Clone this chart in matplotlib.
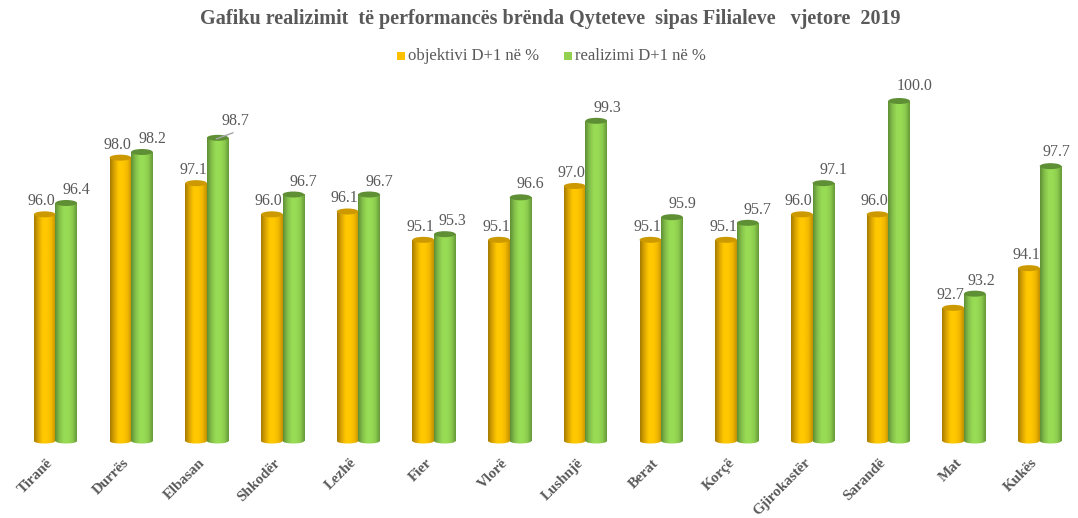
import numpy as np
import matplotlib
matplotlib.use('Agg')
import matplotlib.pyplot as plt
from matplotlib.colors import LinearSegmentedColormap
from matplotlib.patches import Ellipse
from matplotlib.transforms import ScaledTranslation

qytetet = ['Tiranë', 'Durrës', 'Elbasan', 'Shkodër', 'Lezhë', 'Fier', 'Vlorë', 'Lushnjë',
           'Berat', 'Korçë', 'Gjirokastër', 'Sarandë', 'Mat', 'Kukës']
objektivi = [96.0, 98.0, 97.1, 96.0, 96.1, 95.1, 95.1, 97.0, 95.1, 95.1, 96.0, 96.0, 92.7, 94.1]
realizimi = [96.4, 98.2, 98.7, 96.7, 96.7, 95.3, 96.6, 99.3, 95.9, 95.7, 97.1, 100.0, 93.2, 97.7]

W, H = 1078, 518
plt.rcParams['font.family'] = ['Liberation Serif', 'DejaVu Serif']
GRI = '#595959'

fig = plt.figure(figsize=(W / 100, H / 100), dpi=100)
# zona e grafikut ne piksela
left, right, top, bottom = 17.6, 1077.6, 101, 441
ax = fig.add_axes([left / W, 1 - bottom / H, (right - left) / W, (bottom - top) / H])
ax.patch.set_alpha(0)
ymin, ymax = 88, 100
px_x = 1 / 75.7
px_y = (ymax - ymin) / (bottom - top)
bw = 0.285

kat_o = LinearSegmentedColormap.from_list('o', ['#a67c00', '#dca600', '#ffc800', '#ffc800', '#f2b900', '#c29000'])
kat_g = LinearSegmentedColormap.from_list('g', ['#5f8f35', '#84bf4b', '#98dc55', '#98dc55', '#8ccb4e', '#659a38'])
grad = np.linspace(0, 1, 64).reshape(1, -1)


def cilinder(x, v, cmap, lart):
    bar = ax.bar(x, v - ymin, bw, bottom=ymin, color='none', zorder=2)[0]
    im = ax.imshow(grad, extent=[x - bw / 2, x + bw / 2, ymin, v], aspect='auto', cmap=cmap, zorder=2)
    im.set_clip_path(bar)
    # fundi i rrumbullaket me te njejtin gradient
    e = Ellipse((x, ymin), bw, 5 * px_y, facecolor='none', edgecolor='none', zorder=2, clip_on=False)
    ax.add_patch(e)
    im2 = ax.imshow(grad, extent=[x - bw / 2, x + bw / 2, ymin - 3 * px_y, ymin + 3 * px_y], aspect='auto',
                    cmap=cmap, zorder=2)
    im2.set_clip_box(fig.bbox)
    im2.set_clip_path(e)
    ax.add_patch(Ellipse((x, v), bw, 6 * px_y, color=lart, zorder=3, clip_on=False, lw=0))


x = np.arange(len(qytetet))
for i in x:
    cilinder(i - bw / 2, objektivi[i], kat_o, '#cc9a00')
    cilinder(i + bw / 2, realizimi[i], kat_g, '#5f8f35')

# zhvendosjet e etiketave ne piksela
zhv_o = {}
zhv_g = {5: (8, 13), 2: (18, 17), 11: (15, 15), 12: (7, 13), 13: (6, 14), 7: (11, 13), 6: (10, 13)}
for i in x:
    dx, dy = zhv_o.get(i, (-3, 13))
    ax.annotate(f'{objektivi[i]:.1f}', (i - bw / 2, objektivi[i]), xytext=(dx * 0.72, dy * 0.72),
                textcoords='offset points', ha='center', va='center', fontsize=11.5, color=GRI, zorder=5,
                annotation_clip=False)
    dx, dy = zhv_g.get(i, (10, 13))
    ax.annotate(f'{realizimi[i]:.1f}', (i + bw / 2, realizimi[i]), xytext=(dx * 0.72, dy * 0.72),
                textcoords='offset points', ha='center', va='center', fontsize=11.5, color=GRI, zorder=5,
                annotation_clip=False)

# vija e Elbasanit
ax.annotate('', (2 + bw / 2 - 4 * px_x, realizimi[2] - 2 * px_y), xytext=(2 + bw / 2 + 18 * px_x, realizimi[2] + 6 * px_y),
            arrowprops=dict(arrowstyle='-', color='#a6a6a6', lw=1), zorder=5, annotation_clip=False)

ax.set_xlim(-0.5, len(qytetet) - 0.5)
ax.set_ylim(ymin, ymax)
ax.set_yticks([])
ax.set_xticks(x)
ax.set_xticklabels(qytetet, rotation=45, ha='right', rotation_mode='anchor', fontsize=10.8,
                   fontweight='bold', color=GRI)
ax.tick_params(axis='x', length=0, pad=11)
zhvendos = ScaledTranslation(-9 / 100, 0, fig.dpi_scale_trans)
for t in ax.get_xticklabels():
    t.set_transform(t.get_transform() + zhvendos)
for s in ax.spines.values():
    s.set_visible(False)

fig.text(550 / W, 1 - 19 / H, 'Gafiku realizimit  të performancës brënda Qyteteve  sipas Filialeve   vjetore  2019',
         ha='center', va='center', fontsize=14.5, fontweight='bold', color=GRI)

# legjenda
for px, ngjyre, tekst in [(397, '#ffc000', 'objektivi D+1 në %'), (564, '#92d050', 'realizimi D+1 në %')]:
    fig.patches.append(plt.Rectangle((px / W, 1 - 60 / H), 8 / W, 8 / H, transform=fig.transFigure,
                                     facecolor=ngjyre, edgecolor='none', figure=fig))
    fig.text((px + 11) / W, 1 - 56 / H, tekst, ha='left', va='center', fontsize=12, color=GRI)

fig.savefig('out.png', dpi=100)
